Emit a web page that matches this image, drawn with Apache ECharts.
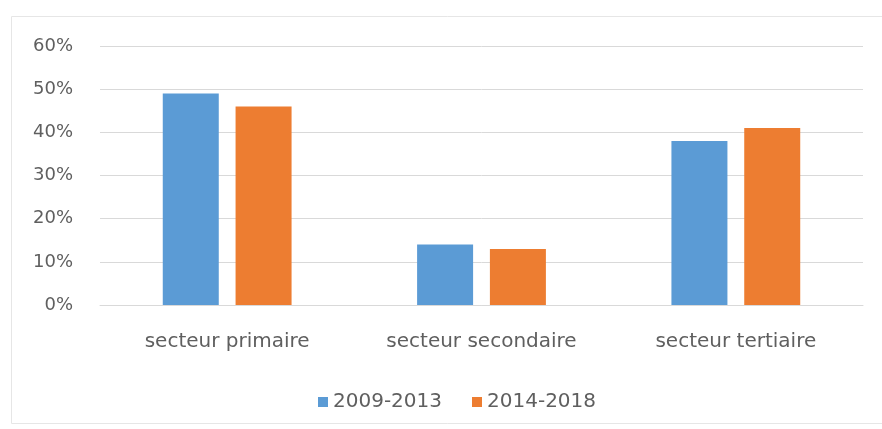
<!DOCTYPE html>
<html>
<head>
<meta charset="utf-8">
<script src="https://cdn.jsdelivr.net/npm/echarts@6/dist/echarts.min.js"></script>
<style>
html,body{margin:0;padding:0;background:#fff;}
#c{width:882px;height:429px;}
</style>
</head>
<body>
<div id="c"></div>
<script>
const categories = ['secteur primaire', 'secteur secondaire', 'secteur tertiaire'];
const seriesNames = ['2009-2013', '2014-2018'];
const values2009 = [49, 14, 38];
const values2014 = [46, 13, 41];
const yTicks = [0, 10, 20, 30, 40, 50, 60];

const font = 'DejaVu Sans';
const chart = echarts.init(document.getElementById('c'), null, {renderer: 'canvas'});
chart.setOption({
  animation: false,
  backgroundColor: '#fff',
  graphic: [{
    type: 'rect',
    shape: {x: 11.5, y: 16.5, width: 880, height: 407},
    style: {fill: 'none', stroke: '#e6e6e6', lineWidth: 1},
    silent: true
  }],
  grid: {left: 100, right: 19, top: 46, bottom: 124},
  legend: {
    data: seriesNames,
    left: 313,
    top: 387,
    itemWidth: 10,
    itemHeight: 10,
    itemGap: 30,
    icon: 'rect',
    textStyle: {fontFamily: font, fontSize: 20, color: '#5f5f5f', padding: [0, 0, 0, 0]}
  },
  xAxis: {
    type: 'category',
    data: categories,
    axisLine: {show: true, lineStyle: {color: '#d9d9d9', width: 1}},
    axisTick: {show: false},
    axisLabel: {fontFamily: font, fontSize: 20, color: '#5f5f5f', margin: 27}
  },
  yAxis: {
    type: 'value',
    min: yTicks[0],
    max: yTicks[yTicks.length - 1],
    interval: 10,
    axisLine: {show: false},
    axisTick: {show: false},
    splitLine: {lineStyle: {color: '#d9d9d9', width: 1}},
    axisLabel: {fontFamily: font, fontSize: 18, color: '#5f5f5f', margin: 27, formatter: v => v + '%'}
  },
  series: [
    {name: seriesNames[0], type: 'bar', data: values2009, barWidth: 56, barGap: '30%', itemStyle: {color: '#5B9BD5'}},
    {name: seriesNames[1], type: 'bar', data: values2014, barWidth: 56, barGap: '30%', itemStyle: {color: '#ED7D31'}}
  ]
});
</script>
</body>
</html>
